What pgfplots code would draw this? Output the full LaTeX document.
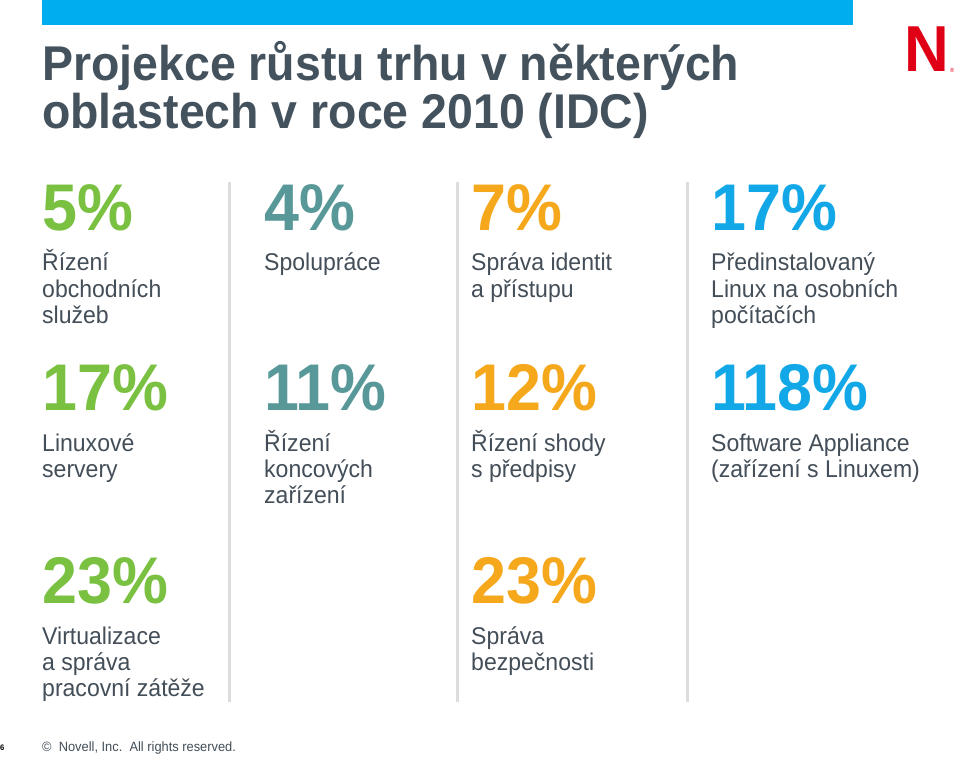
\documentclass[border=0pt]{standalone}
\usepackage{pgfplots}
\pgfplotsset{compat=1.18}
\usepackage{fontspec}
\setmainfont{Liberation Sans}[FakeStretch=0.952]
\definecolor{topblue}{RGB}{0,174,239}
\definecolor{titlegray}{RGB}{68,82,94}
\definecolor{txtgray}{RGB}{67,78,88}
\definecolor{cgreen}{RGB}{122,193,66}
\definecolor{cteal}{RGB}{88,152,153}
\definecolor{corange}{RGB}{245,168,28}
\definecolor{cblue}{RGB}{18,167,230}
\definecolor{sepgray}{RGB}{221,221,221}
\definecolor{novred}{RGB}{224,0,22}
\newcommand{\num}[4]{\node[anchor=base west, inner sep=0pt, text=#3, font=\bfseries\fontsize{66}{66}\selectfont] at (axis cs:#1,#2) {#4};}
\newcommand{\lbl}[3]{\node[anchor=base west, inner sep=0pt, text=txtgray, font=\fontsize{24.2}{26}\selectfont] at (axis cs:#1,#2) {#3};}
\begin{document}
\begin{tikzpicture}
\begin{axis}[
  at={(0,0)}, anchor=south west,
  width=960pt, height=756pt, scale only axis,
  xmin=0, xmax=960, ymin=0, ymax=756, y dir=reverse,
  axis lines=none, ticks=none, clip=false]
\fill[white] (axis cs:0,0) rectangle (axis cs:960,756);
% top bar
\fill[topblue] (axis cs:42,0) rectangle (axis cs:853,25);
% title
\node[anchor=base west, inner sep=0pt, text=titlegray, font=\bfseries\fontsize{48.8}{48.8}\selectfont] at (axis cs:42,80) {Projekce růstu trhu v některých};
\node[anchor=base west, inner sep=0pt, text=titlegray, font=\bfseries\fontsize{48.8}{48.8}\selectfont] at (axis cs:42,128) {oblastech v roce 2010 (IDC)};
% logo
\node[anchor=base west, inner sep=0pt, text=novred, font=\bfseries\fontsize{65}{65}\selectfont] at (axis cs:904,71) {N};
\node[anchor=base west, inner sep=0pt, text=novred, font=\fontsize{6}{6}\selectfont] at (axis cs:950,72) {®};
% separators
\draw[sepgray, line width=3pt] (axis cs:229,182) -- (axis cs:229,702);
\draw[sepgray, line width=3pt] (axis cs:457,182) -- (axis cs:457,702);
\draw[sepgray, line width=3pt] (axis cs:687,182) -- (axis cs:687,702);
% column 1
\num{42}{230}{cgreen}{5\%}
\lbl{42}{270}{Řízení}
\lbl{42}{297}{obchodních}
\lbl{42}{323}{služeb}
\num{42}{410}{cgreen}{17\%}
\lbl{42}{451}{Linuxové}
\lbl{42}{477}{servery}
\num{42}{603}{cgreen}{23\%}
\lbl{42}{644}{Virtualizace}
\lbl{42}{670}{a správa}
\lbl{42}{696}{pracovní zátěže}
% column 2
\num{264}{230}{cteal}{4\%}
\lbl{264}{270}{Spolupráce}
\num{264}{410}{cteal}{11\%}
\lbl{264}{451}{Řízení}
\lbl{264}{477}{koncových}
\lbl{264}{503}{zařízení}
% column 3
\num{471}{230}{corange}{7\%}
\lbl{471}{270}{Správa identit}
\lbl{471}{297}{a přístupu}
\num{471}{410}{corange}{12\%}
\lbl{471}{451}{Řízení shody}
\lbl{471}{477}{s předpisy}
\num{471}{603}{corange}{23\%}
\lbl{471}{644}{Správa}
\lbl{471}{670}{bezpečnosti}
% column 4
\num{711}{230}{cblue}{17\%}
\lbl{711}{270}{Předinstalovaný}
\lbl{711}{297}{Linux na osobních}
\lbl{711}{323}{počítačích}
\num{711}{410}{cblue}{118\%}
\lbl{711}{451}{Software Appliance}
\lbl{711}{477}{(zařízení s Linuxem)}
% footer
\node[anchor=base west, inner sep=0pt, text=black, font=\bfseries\fontsize{8}{8}\selectfont] at (axis cs:0,750) {6};
\node[anchor=base west, inner sep=0pt, text=txtgray, font=\fontsize{13.5}{13.5}\selectfont] at (axis cs:42,751) {©\ \ Novell, Inc.\ \ All rights reserved.};
\end{axis}
\end{tikzpicture}
\end{document}
